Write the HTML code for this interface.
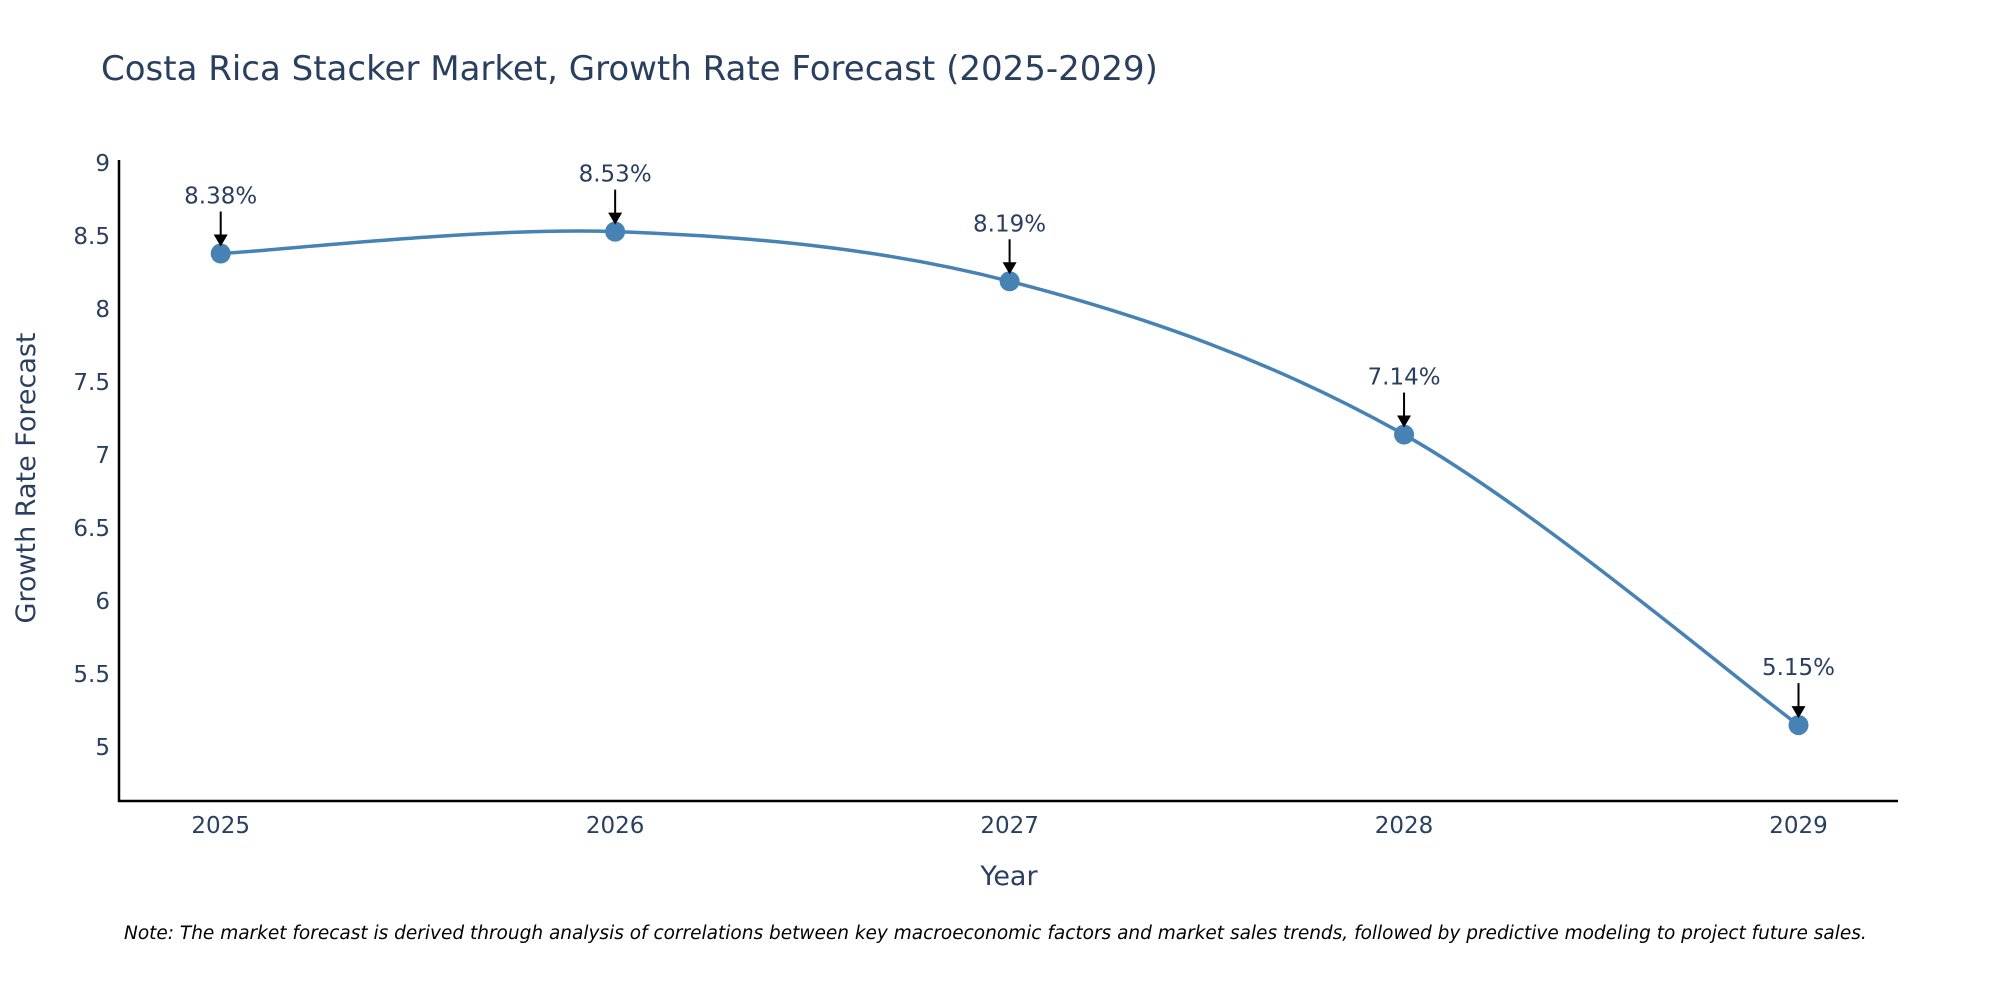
<!DOCTYPE html>
<html><head><meta charset="utf-8"><style>
html,body{margin:0;padding:0;background:#fff;overflow:hidden;}
svg text{font-family:"DejaVu Sans","Liberation Sans",sans-serif;fill:#2a3f5f;}
</style></head><body>
<svg id="chart" width="2000" height="1000" viewBox="0 0 2000 1000" xmlns="http://www.w3.org/2000/svg">
<text x="101" y="80" font-size="34">Costa Rica Stacker Market, Growth Rate Forecast (2025-2029)</text>
<g id="yticks"></g>
<g id="xticks"></g>
<line x1="119" y1="160" x2="119" y2="802" stroke="#000" stroke-width="2.5"/>
<line x1="118" y1="801" x2="1898" y2="801" stroke="#000" stroke-width="2.5"/>
<path id="line" fill="none" stroke="#4682b4" stroke-width="3.5"/>
<g id="marks"></g>
<g id="annots"></g>
<text x="1009" y="885" font-size="27" text-anchor="middle">Year</text>
<text transform="translate(35,478) rotate(-90)" font-size="27" text-anchor="middle">Growth Rate Forecast</text>
<text x="124" y="939" font-size="18.5" font-style="italic" style="fill:#000">Note: The market forecast is derived through analysis of correlations between key macroeconomic factors and market sales trends, followed by predictive modeling to project future sales.</text>
</svg>
<script>
const years = [2025, 2026, 2027, 2028, 2029];
const values = [8.38, 8.53, 8.19, 7.14, 5.15];
const labels = ["8.38%", "8.53%", "8.19%", "7.14%", "5.15%"];
const yTickVals = [5, 5.5, 6, 6.5, 7, 7.5, 8, 8.5, 9];
const yTickLabels = ["5", "5.5", "6", "6.5", "7", "7.5", "8", "8.5", "9"];

const NS = "http://www.w3.org/2000/svg";
function xs(v){ return 220.7 + (v - 2025) * 394.45; }
function ys(v){ return 747 - (v - 5) * 146; }
function mk(tag, attrs, parent){ const e = document.createElementNS(NS, tag); for (const k in attrs) e.setAttribute(k, attrs[k]); parent.appendChild(e); return e; }

const yg = document.getElementById('yticks');
yTickVals.forEach((v, i) => {
  const t = mk('text', {x: 110, y: ys(v) + 8, 'font-size': 23, 'text-anchor': 'end'}, yg);
  
  
  t.textContent = yTickLabels[i];
});
const xg = document.getElementById('xticks');
years.forEach(y => {
  const t = mk('text', {x: xs(y), y: 833, 'font-size': 23, 'text-anchor': 'middle'}, xg);
  
  
  t.textContent = String(y);
});

const pts = years.map((y, i) => [xs(y), ys(values[i])]);
let d = `M${pts[0][0]},${pts[0][1]}`;
for (let i = 0; i < pts.length - 1; i++) {
  const p0 = pts[Math.max(0, i - 1)], p1 = pts[i], p2 = pts[i + 1], p3 = pts[Math.min(pts.length - 1, i + 2)];
  const c1 = [p1[0] + (p2[0] - p0[0]) / 6, p1[1] + (p2[1] - p0[1]) / 6];
  const c2 = [p2[0] - (p3[0] - p1[0]) / 6, p2[1] - (p3[1] - p1[1]) / 6];
  d += ` C${c1[0]},${c1[1]} ${c2[0]},${c2[1]} ${p2[0]},${p2[1]}`;
}
document.getElementById('line').setAttribute('d', d);

const mg = document.getElementById('marks');
const ag = document.getElementById('annots');
pts.forEach((p, i) => {
  const c = mk('circle', {cx: p[0], cy: p[1], r: 10, fill: '#4682b4'}, mg);
  
  
  const l = mk('line', {x1: p[0], y1: p[1] - 42, x2: p[0], y2: p[1] - 18, stroke: '#000', 'stroke-width': 2}, ag);
  
  
  const h = mk('polygon', {points: `${p[0]-7},${p[1]-19} ${p[0]+7},${p[1]-19} ${p[0]},${p[1]-7}`, fill: '#000'}, ag);
  
  
  const t = mk('text', {x: p[0], y: p[1] - 50, 'font-size': 23, 'text-anchor': 'middle'}, ag);
  
  
  t.textContent = labels[i];
});
</script>
</body></html>
